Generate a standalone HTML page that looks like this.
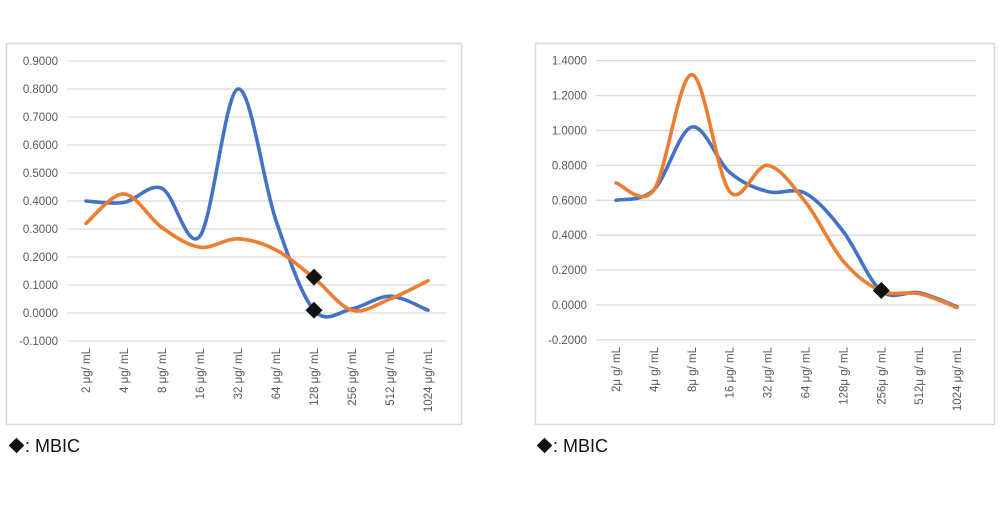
<!DOCTYPE html>
<html><head><meta charset="utf-8"><style>
body{margin:0;background:#fff;width:1000px;height:500px;overflow:hidden}
svg{font-family:"Liberation Sans",sans-serif}
</style></head><body>
<svg id="s" width="1000" height="500" xmlns="http://www.w3.org/2000/svg">
<rect x="6.5" y="43.5" width="455" height="381" fill="#fff" stroke="#d9d9d9" stroke-width="1.5"/>
<rect x="535.5" y="43.5" width="459" height="381" fill="#fff" stroke="#d9d9d9" stroke-width="1.5"/>
<g id="g"></g>
<rect x="11" y="440" width="11" height="11" transform="rotate(45 16.5 445.5)" fill="#111"/>
<text x="25" y="452" font-size="18" fill="#111">: MBIC</text>
<rect x="539" y="440" width="11" height="11" transform="rotate(45 544.5 445.5)" fill="#111"/>
<text x="553" y="452" font-size="18" fill="#111">: MBIC</text>
</svg>
<script>
var g=document.getElementById('g'),h='';
function chart(c){
 for(var v=c.min;v<=c.max+1e-9;v+=c.step){
  var y=c.y0-v*c.py;
  h+='<line x1="'+c.gx1+'" x2="'+c.gx2+'" y1="'+y+'" y2="'+y+'" stroke="#d9d9d9" stroke-width="1.3"/>';
  h+='<text x="'+(c.gx1-9)+'" y="'+(y+4)+'" font-size="11.5" fill="#595959" text-anchor="end">'+v.toFixed(4)+'</text>';
 }
 c.labels.forEach(function(l,i){var x=c.x0+i*c.dx;
  h+='<text transform="translate('+(x+4)+','+c.ly+') rotate(-90)" font-size="11.5" fill="#595959" text-anchor="end">'+l+'</text>';});
 [[c.b,'#4472C4'],[c.o,'#ED7D31']].forEach(function(s){
  var p=s[0].map(function(v,i){return[c.x0+i*c.dx,c.y0-v*c.py]});
  var d='M'+p[0][0]+','+p[0][1];
  for(var i=0;i<p.length-1;i++){
   var p0=p[i-1]||p[i],p1=p[i],p2=p[i+1],p3=p[i+2]||p2,t=6;
   d+=' C'+(p1[0]+(p2[0]-p0[0])/t)+','+(p1[1]+(p2[1]-p0[1])/t)+' '+(p2[0]-(p3[0]-p1[0])/t)+','+(p2[1]-(p3[1]-p1[1])/t)+' '+p2[0]+','+p2[1];
  }
  h+='<path d="'+d+'" fill="none" stroke="'+s[1]+'" stroke-width="3.6" stroke-linecap="round"/>';
 });
 c.m.forEach(function(m){var x=c.x0+m[0]*c.dx,y=c.y0-m[1]*c.py;
  h+='<rect x="'+(x-6)+'" y="'+(y-6)+'" width="12" height="12" transform="rotate(45 '+x+' '+y+')" fill="#111"/>';});
}
var L1=['2 μg/ mL','4 μg/ mL','8 μg/ mL','16 μg/ mL','32 μg/ mL','64 μg/ mL','128 μg/ mL','256 μg/ mL','512 μg/ mL','1024 μg/ mL'];
var L2=['2μ g/ mL','4μ g/ mL','8μ g/ mL','16 μg/ mL','32 μg/ mL','64 μg/ mL','128μ g/ mL','256μ g/ mL','512μ g/ mL','1024 μg/ mL'];
chart({min:-0.1,max:0.9,step:0.1,y0:313,py:280,gx1:67,gx2:447,x0:86,dx:38,ly:348,labels:L1,
 b:[0.40,0.395,0.445,0.275,0.80,0.33,0.01,0.015,0.06,0.01],
 o:[0.32,0.425,0.305,0.235,0.265,0.225,0.125,0.01,0.05,0.115],
 m:[[6,0.01],[6,0.128]]});
chart({min:-0.2,max:1.4,step:0.2,y0:305,py:174.5,gx1:596,gx2:976,x0:616,dx:37.9,ly:347,labels:L2,
 b:[0.6,0.66,1.02,0.76,0.65,0.64,0.42,0.08,0.07,-0.01],
 o:[0.70,0.66,1.32,0.65,0.80,0.59,0.25,0.08,0.065,-0.015],
 m:[[7,0.083]]});
g.innerHTML=h;
</script>
</body></html>
